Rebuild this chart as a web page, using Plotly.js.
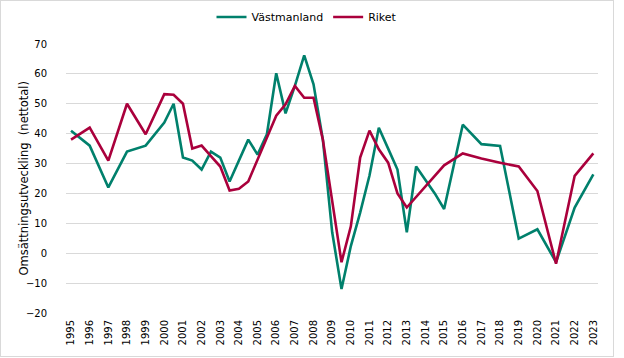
<!DOCTYPE html>
<html>
<head>
<meta charset="utf-8">
<script src="https://cdn.plot.ly/plotly-3.0.1.min.js"></script>
<style>
  html, body { margin: 0; padding: 0; background: #fff; }
  #wrap { width: 612px; height: 355px; border: 1px solid #d9d9d9; }
  #chart { width: 612px; height: 355px; }
</style>
</head>
<body>
<div id="wrap"><div id="chart"></div></div>
<script>
const periods = [1995, 1996, 1997, 1998, 1999, 2000,
  2000.5, 2001, 2001.5, 2002, 2002.5, 2003, 2003.5, 2004, 2004.5, 2005,
  2005.5, 2006, 2006.5, 2007, 2007.5, 2008, 2008.5, 2009, 2009.5, 2010,
  2010.5, 2011, 2011.5, 2012, 2012.5, 2013, 2013.5, 2014, 2014.5, 2015,
  2016, 2017, 2018, 2019, 2020, 2021, 2022, 2023];

const vastmanland = [41, 36, 22, 34, 36, 43.7,
  50, 32, 31, 28, 34, 32, 24, 31, 38, 33,
  39.8, 60.2, 46.8, 56, 66.2, 56.5, 38, 7, -12, 2.4,
  13.6, 26, 42, 35, 28, 7, 29, 24.5, 20, 14.8,
  43, 36.5, 35.9, 4.9, 8, -3, 15.3, 26.4];

const riket = [38, 42, 31, 50, 39.8, 53.2,
  53, 50, 35, 36, 32.5, 29, 21, 21.6, 24, 31.3,
  38.6, 46, 49.8, 56, 52, 52, 38, 17, -3, 9,
  32, 41, 34.8, 30.3, 20, 15.3, 18.8, 22.4, 26, 29.4,
  33.4, 31.7, 30.3, 29, 20.8, -3.5, 25.9, 33.4];

const yearTicks = [];
for (let y = 1995; y <= 2023; y++) yearTicks.push(y);
const yearLabels = yearTicks.map(String);

const seriesNames = ['Västmanland', 'Riket'];
const yTitle = 'Omsättningsutveckling  (nettotal)';

const FONT = 'DejaVu Sans, Verdana, sans-serif';

const traces = [
  { x: periods, y: vastmanland, name: seriesNames[0], type: 'scatter', mode: 'lines',
    line: { color: '#00806c', width: 2.6 } },
  { x: periods, y: riket, name: seriesNames[1], type: 'scatter', mode: 'lines',
    line: { color: '#aa003c', width: 2.6 } }
];

const layout = {
  width: 612, height: 355,
  margin: { l: 65, r: 15, t: 43, b: 43, autoexpand: false },
  paper_bgcolor: '#fff', plot_bgcolor: '#fff',
  font: { family: FONT, size: 10, color: '#000' },
  showlegend: true,
  legend: { orientation: 'h', xref: 'container', yref: 'container',
    x: 0.5, xanchor: 'center', y: 1 - 16 / 355, yanchor: 'middle',
    font: { family: FONT, size: 11, color: '#000' }, traceorder: 'normal' },
  xaxis: {
    range: [1994.73, 2023.25],
    tickmode: 'array', tickvals: yearTicks, ticktext: yearLabels,
    tickangle: -90, showgrid: false, zeroline: false, showline: false,
    ticks: '', ticklabelstandoff: 4, automargin: false,
    tickfont: { family: FONT, size: 10, color: '#000' }
  },
  yaxis: {
    range: [-20, 70], dtick: 10, tick0: 0,
    showgrid: true, gridcolor: '#d9d9d9', gridwidth: 1,
    zeroline: false, showline: false, ticks: '',
    ticklabelstandoff: 18, automargin: false,
    tickfont: { family: FONT, size: 10, color: '#000' }
  },
  annotations: [{
    text: yTitle, textangle: -90, showarrow: false,
    xref: 'paper', yref: 'paper', x: -0.079, y: 0.5,
    xanchor: 'center', yanchor: 'middle',
    font: { family: FONT, size: 11.5, color: '#000' }
  }]
};

Plotly.newPlot('chart', traces, layout, { displayModeBar: false, staticPlot: true });
</script>
</body>
</html>
